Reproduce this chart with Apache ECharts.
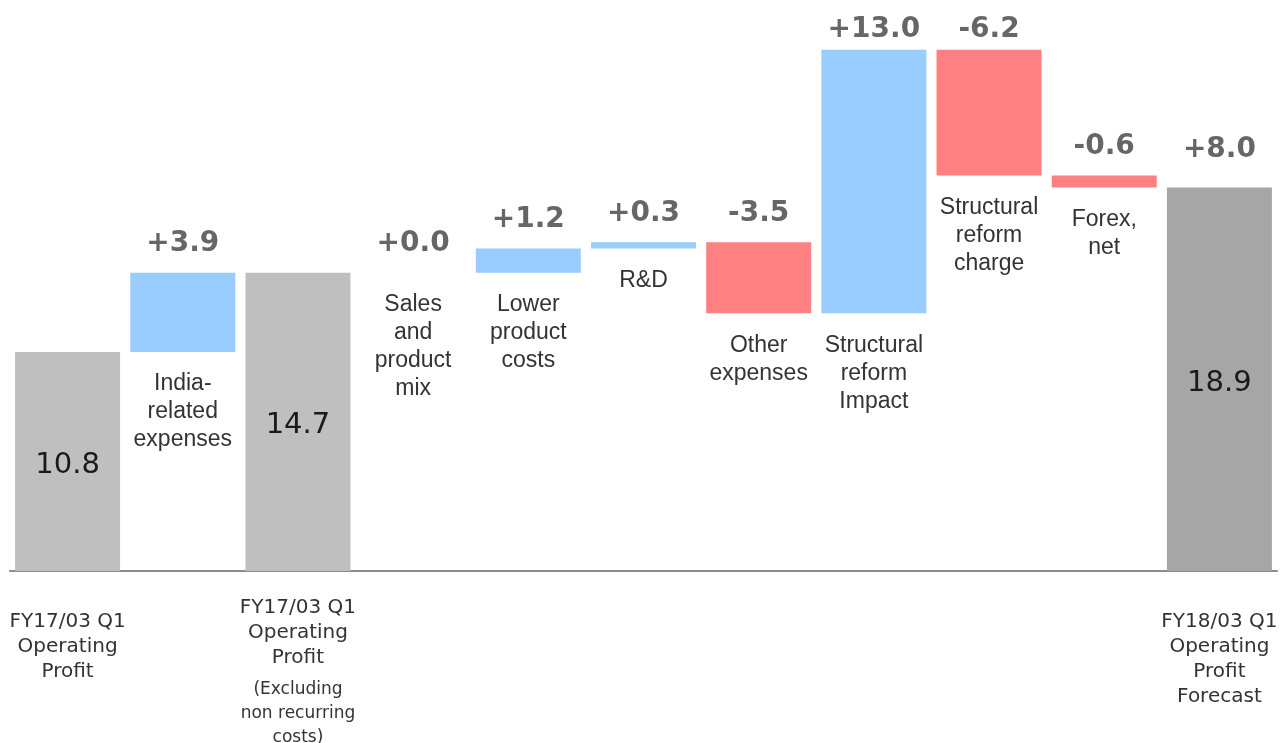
<!DOCTYPE html>
<html>
<head>
<meta charset="utf-8">
<script src="https://cdn.jsdelivr.net/npm/echarts@6/dist/echarts.min.js"></script>
<style>
html,body{margin:0;padding:0;background:#fff;}
#chart{width:1282px;height:743px;}
</style>
</head>
<body>
<div id="chart"></div>
<script>
const categories = [
  'FY17/03 Q1\nOperating\nProfit',
  'India-\nrelated\nexpenses',
  'FY17/03 Q1\nOperating\nProfit\n(Excluding\nnon recurring\ncosts)',
  'Sales\nand\nproduct\nmix',
  'Lower\nproduct\ncosts',
  'R&D',
  'Other\nexpenses',
  'Structural\nreform\nImpact',
  'Structural\nreform\ncharge',
  'Forex,\nnet',
  'FY18/03 Q1\nOperating\nProfit\nForecast'
];
const totals  = [10.8, null, 14.7, null, null, null, null, null, null, null, 18.9];
const changes = [null, 3.9, null, 0.0, 1.2, 0.3, -3.5, 13.0, -6.2, -0.6, null];
const deltaLabels = ['', '+3.9', '', '+0.0', '+1.2', '+0.3', '-3.5', '+13.0', '-6.2', '-0.6', '+8.0'];

const COLORS = {up: '#99CCFF', down: '#FF8080', total: '#BFBFBF', final: '#A6A6A6'};

// compute waterfall geometry from the data
const bottoms = [], heights = [], tops = [];
let level = 0;
categories.forEach((c, i) => {
  if (totals[i] != null) {
    bottoms.push(0); heights.push(totals[i]); tops.push(totals[i]);
    level = totals[i];
  } else {
    const next = level + changes[i];
    const lo = Math.min(level, next), hi = Math.max(level, next);
    bottoms.push(+lo.toFixed(2)); heights.push(+(hi - lo).toFixed(2)); tops.push(+hi.toFixed(2));
    level = next;
  }
});
const lastIdx = categories.length - 1;

const chart = echarts.init(document.getElementById('chart'));
chart.setOption({
  animation: false,
  grid: {left: 10, right: 5, top: 3, bottom: 172, containLabel: false, outerBoundsMode: 'none'},
  xAxis: {
    type: 'category',
    data: categories,
    axisLine: {lineStyle: {color: '#8c8c8c', width: 2}},
    axisTick: {show: false},
    axisLabel: {
      interval: 0,
      margin: 24,
      formatter: function (value, index) {
        if (totals[index] == null) return '';
        const lines = value.split('\n');
        const hasSmall = lines.some(l => l.startsWith('('));
        let small = false;
        const out = [];
        if (!hasSmall) out.push('{g| }');
        lines.forEach(l => {
          if (l.startsWith('(')) { small = true; out.push('{h| }'); }
          out.push((small ? '{s|' : '{n|') + l + '}');
        });
        return out.join('\n');
      },
      rich: {
        g: {fontSize: 1, lineHeight: 14},
        h: {fontSize: 1, lineHeight: 8},
        n: {fontFamily: 'DejaVu Sans', fontSize: 20, lineHeight: 25, color: '#333'},
        s: {fontFamily: 'DejaVu Sans', fontSize: 17, lineHeight: 24, color: '#333'}
      }
    }
  },
  yAxis: {type: 'value', min: 0, max: 28, show: false, splitLine: {show: false}},
  series: [
    {
      name: 'base',
      type: 'bar',
      stack: 'w',
      barWidth: 105,
      silent: true,
      itemStyle: {color: 'transparent'},
      data: bottoms.map((b, i) => ({
        value: b,
        label: totals[i] != null ? {show: false} : {
          show: true,
          position: 'insideTop',
          distance: 18,
          formatter: categories[i],
          fontFamily: 'Liberation Sans',
          fontSize: 23,
          lineHeight: 28,
          color: '#333',
          overflow: 'none'
        }
      }))
    },
    {
      name: 'value',
      type: 'bar',
      stack: 'w',
      barWidth: 105,
      data: heights.map((h, i) => ({
        value: h,
        itemStyle: {
          color: totals[i] != null ? (i === lastIdx ? COLORS.final : COLORS.total)
                                   : (changes[i] >= 0 ? COLORS.up : COLORS.down)
        },
        label: totals[i] != null ? {
          show: true,
          position: 'inside',
          offset: [0, 4],
          formatter: totals[i].toFixed(1),
          fontFamily: 'DejaVu Sans',
          fontSize: 29,
          color: '#1a1a1a'
        } : {show: false}
      }))
    },
    {
      name: 'delta',
      type: 'scatter',
      symbolSize: 0,
      silent: true,
      data: tops.map((t, i) => ({
        value: [i, t],
        label: {
          show: deltaLabels[i] !== '',
          position: 'top',
          distance: t > 24 ? 6 : (i === lastIdx ? 24 : 15),
          formatter: deltaLabels[i],
          fontFamily: 'DejaVu Sans',
          fontWeight: 'bold',
          fontSize: 28,
          color: '#404040'
        }
      }))
    }
  ]
});
</script>
</body>
</html>
